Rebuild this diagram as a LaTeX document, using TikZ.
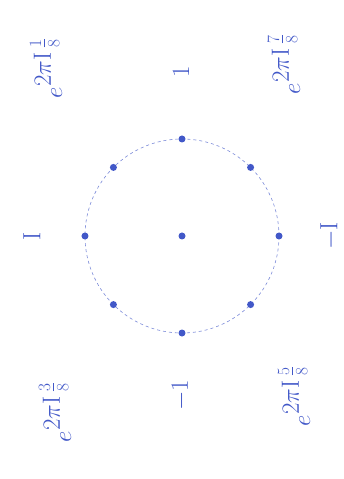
\documentclass[tikz,border=0pt]{standalone}
\begin{document}
\begin{tikzpicture}[
    x=1pt, y=1pt,
    ink/.style={color={rgb,255:red,66;green,88;blue,200}},
    root/.style={ink, fill, circle, inner sep=0pt, minimum size=7pt},
    lbl/.style={ink, rotate=90, font=\fontsize{30}{34}\selectfont},
    expo/.style={ink, rotate=90, inner sep=0pt, font=\fontsize{27}{30}\selectfont}
  ]
  \useasboundingbox (-182,-243) rectangle (162,236);

  % unit circle, drawn lightly
  \draw[ink, dashed, line width=0.6pt, opacity=0.7] (0,0) circle (97);

  \node[root] (o) at (0,0) {};
  \node[root] (p0) at (0:97)   {};
  \node[root] (p1) at (45:97)  {};
  \node[root] (p2) at (90:97)  {};
  \node[root] (p3) at (135:97) {};
  \node[root] (p4) at (180:97) {};
  \node[root] (p5) at (225:97) {};
  \node[root] (p6) at (270:97) {};
  \node[root] (p7) at (315:97) {};

  % real and imaginary units
  \node[lbl] (one)   at (-1,164)  {$1$};
  \node[lbl] (imag)  at (-150,0)  {$\mathrm{I}$};
  \node[lbl] (mimag) at (148,0)   {$-\mathrm{I}$};
  \node[lbl] (mone)  at (-1,-159) {$-1$};

  % the other roots of unity
  \node[expo] (e1) at (-136,168)  {$e^{\textstyle 2\pi \mathrm{I}\,\frac{1}{8}}$};
  \node[expo] (e7) at (102,172)   {$e^{\textstyle 2\pi \mathrm{I}\,\frac{7}{8}}$};
  \node[expo] (e3) at (-127,-176) {$e^{\textstyle 2\pi \mathrm{I}\,\frac{3}{8}}$};
  \node[expo] (e5) at (112,-160)  {$e^{\textstyle 2\pi \mathrm{I}\,\frac{5}{8}}$};

\end{tikzpicture}
\end{document}
